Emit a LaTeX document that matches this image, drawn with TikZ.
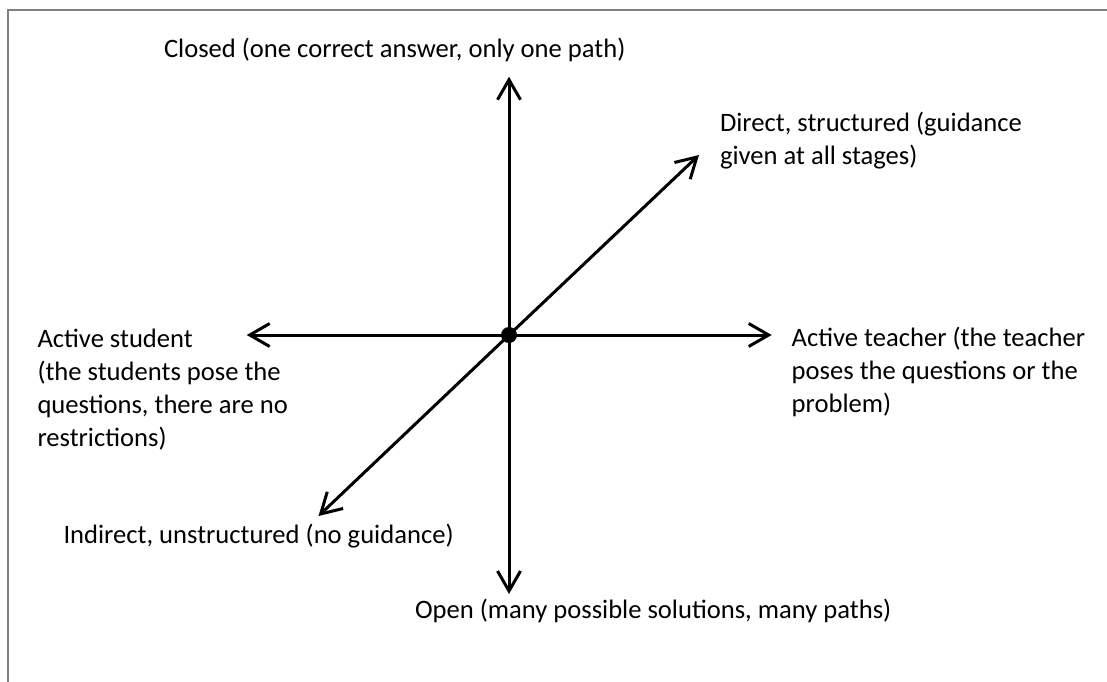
\documentclass[tikz,border=0pt]{standalone}
\usepackage{fontspec}
\setmainfont{Carlito}
\usetikzlibrary{arrows.meta}
\begin{document}
\begin{tikzpicture}[x=1pt,y=-1pt,
  axis/.style={line width=3pt,-{Straight Barb[length=20pt,width=23pt]}},
  lbl/.style={inner sep=0pt,outer sep=0pt,align=left,anchor=base west,
    font=\fontsize{26.6pt}{32.7pt}\selectfont},
  dotnode/.style={circle,fill=black,inner sep=0pt,minimum size=16pt}]
\useasboundingbox (0,0) rectangle (1107,681);
\draw[line width=2pt,draw={rgb,255:red,128;green,128;blue,128}] (8,10) rectangle (1130,700);
\node[dotnode] (c) at (509,335) {};
\coordinate (N) at (509,76.7);
\coordinate (S) at (509,594);
\coordinate (W) at (246.7,335);
\coordinate (E) at (771.7,335);
\coordinate (NE) at (699,155);
\coordinate (SW) at (318.5,516);
\draw[axis] (c.center) -- (N);
\draw[axis] (c.center) -- (S);
\draw[axis] (c.center) -- (W);
\draw[axis] (c.center) -- (E);
\draw[axis] (c.center) -- (NE);
\draw[axis] (c.center) -- (SW);
\node[lbl] (closed) at (164,57) {Closed (one correct answer, only one path)};
\node[lbl] (direct) at (720,164) {Direct, structured (guidance\\given at all stages)};
\node[lbl] (teacher) at (791.7,412) {Active teacher (the teacher\\poses the questions or the\\problem)};
\node[lbl] (student) at (37.5,446) {Active student\\(the students pose the\\questions, there are no\\restrictions)};
\node[lbl] (indirect) at (63.5,543) {Indirect, unstructured (no guidance)};
\node[lbl] (open) at (415,618) {Open (many possible solutions, many paths)};
\end{tikzpicture}
\end{document}
